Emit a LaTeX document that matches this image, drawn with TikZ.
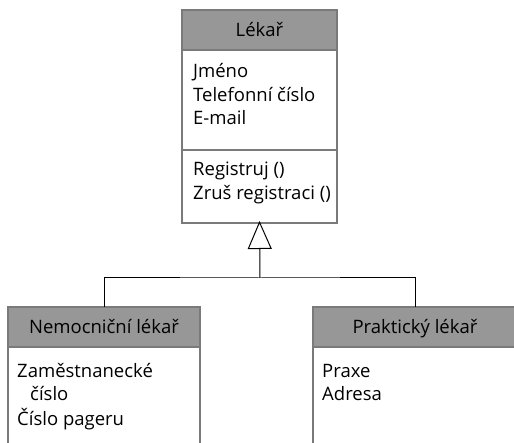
\documentclass[tikz,border=0pt]{standalone}
\usepackage{fontspec}
\setmainfont{Open Sans}
\usetikzlibrary{arrows.meta}
\definecolor{boxline}{HTML}{7A7A7A}
\definecolor{headfill}{HTML}{979797}
\begin{document}
\begin{tikzpicture}[x=1pt,y=-1pt,
  classhead/.style={draw=boxline, fill=headfill, line width=2pt, anchor=north west,
    inner sep=0pt, outer sep=0pt, minimum height=40pt, text height=13pt, text depth=0pt,
    font=\fontsize{18.5}{22}\selectfont},
  classpart/.style={draw=boxline, line width=2pt, anchor=north west, inner sep=0pt, outer sep=0pt},
  member/.style={anchor=base west, inner sep=0pt, font=\fontsize{18.5}{22}\selectfont},
  link/.style={draw=black, line width=1pt}]
\useasboundingbox (0,0) rectangle (514,443);
\clip (0,0) rectangle (514,443);

% parent class
\node[classhead, minimum width=155pt] (lekar) at (182,10) {Lékař};
\node[classpart, minimum width=155pt, minimum height=100pt] (lekarAttr) at (lekar.south west) {};
\node[classpart, minimum width=155pt, minimum height=73pt] (lekarOps) at (lekarAttr.south west) {};
\node[member] (a1) at (193,78) {Jméno};
\node[member] (a2) at (193,102) {Telefonní číslo};
\node[member] (a3) at (193,125) {E-mail};
\node[member] (o1) at (193,176) {Registruj ()};
\node[member] (o2) at (193,200) {Zruš registraci ()};

% subclasses
\node[classhead, minimum width=192pt] (nem) at (8,307) {Nemocniční lékař};
\node[classpart, minimum width=192pt, minimum height=120pt] (nemAttr) at (nem.south west) {};
\node[member] (n1) at (17,378) {Zaměstnanecké};
\node[member] (n2) at (30,401) {číslo};
\node[member] (n3) at (17,425) {Číslo pageru};

\node[classhead, minimum width=204pt] (prak) at (313,307) {Praktický lékař};
\node[classpart, minimum width=204pt, minimum height=120pt] (prakAttr) at (prak.south west) {};
\node[member] (p1) at (322,378) {Praxe};
\node[member] (p2) at (322,401) {Adresa};

% generalization
\coordinate (join) at (260,278);
\draw[link] (nem.north) |- (join) -| (prak.north);
\draw[link, -{Triangle[open, length=28pt, width=24pt, line width=1pt]}]
  (join) -- ([yshift=2pt]lekarOps.south);
\end{tikzpicture}
\end{document}
